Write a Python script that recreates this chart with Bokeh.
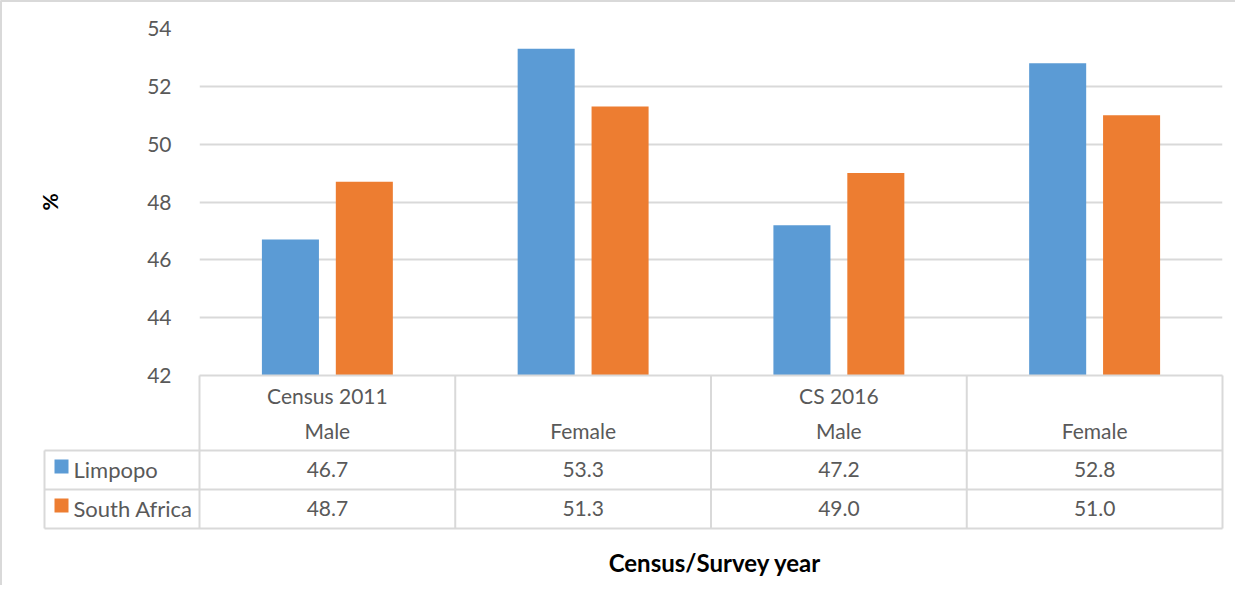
from bokeh.plotting import figure
from bokeh.models import Range1d, FixedTicker, ColumnDataSource
from bokeh.core.properties import value
from bokeh.embed import file_html
from bokeh.resources import INLINE

# ---- data ----
groups = ["Census 2011", "", "CS 2016", ""]
sexes = ["Male", "Female", "Male", "Female"]
series_names = ["Limpopo", "South Africa"]
limpopo = [46.7, 53.3, 47.2, 52.8]
south_africa = [48.7, 51.3, 49.0, 51.0]
y_ticks = [42, 44, 46, 48, 50, 52, 54]
y_title = "%"
x_title = "Census/Survey year"

# ---- style ----
BLUE = "#5B9BD5"
ORANGE = "#ED7D31"
GRID = "#D9D9D9"
TXT = "#595959"
FONT = "Lato"

W, H = 1235, 585
FL, FT = 199, 28           # frame left / top in canvas px
FW, FH = 1023, 347         # frame width / height

p = figure(width=W, height=H, output_backend="svg", toolbar_location=None,
           x_range=Range1d(0, len(sexes)), y_range=Range1d(y_ticks[0], y_ticks[-1]),
           min_border_left=FL, min_border_top=FT,
           min_border_right=W - FL - FW, min_border_bottom=H - FT - FH)
p.outline_line_color = None
p.background_fill_color = "white"
p.border_fill_color = "white"

# pixel-like helper ranges (0,0 = frame bottom-left)
p.extra_x_ranges = {"px": Range1d(0, FW)}
p.extra_y_ranges = {"px": Range1d(0, FH)}

# axes
p.xaxis.visible = False
p.xgrid.visible = False
ya = p.yaxis[0]
ya.ticker = FixedTicker(ticks=y_ticks)
ya.axis_line_color = None
ya.major_tick_line_color = None
ya.minor_tick_line_color = None
ya.major_label_text_font = FONT
ya.major_label_text_font_size = "21px"
ya.major_label_text_color = TXT
ya.major_label_standoff = 22
ya.axis_label = y_title
ya.axis_label_text_font = FONT
ya.axis_label_text_font_style = "bold"
ya.axis_label_text_font_size = "21px"
ya.axis_label_text_color = "black"
ya.axis_label_standoff = 82
p.ygrid.ticker = FixedTicker(ticks=y_ticks)
p.ygrid.grid_line_color = GRID
p.ygrid.grid_line_width = 2

# bars
n = len(sexes)
centers = [i + 0.5 for i in range(n)]
off = 0.1445
bw = 0.223
src = ColumnDataSource(dict(x1=[c - off for c in centers], x2=[c + off for c in centers],
                            lim=limpopo, sa=south_africa))
p.vbar(x="x1", top="lim", bottom=y_ticks[0], width=bw, source=src,
       fill_color=BLUE, line_color=None)
p.vbar(x="x2", top="sa", bottom=y_ticks[0], width=bw, source=src,
       fill_color=ORANGE, line_color=None)

# ---- data table below the plot (overlay level so it can sit outside the frame) ----
kw = dict(x_range_name="px", y_range_name="px", level="overlay")
cw = FW / n
LEG_L = -155
rows_y = [-75, -114, -153]
# horizontal lines
p.segment(x0=[0] + [LEG_L] * 3, x1=[FW] * 4, y0=[0] + rows_y, y1=[0] + rows_y,
          line_color=GRID, line_width=2, **kw)
# vertical lines
p.segment(x0=[i * cw for i in range(n + 1)] + [LEG_L], x1=[i * cw for i in range(n + 1)] + [LEG_L],
          y0=[0] * (n + 1) + [rows_y[0]], y1=[rows_y[2]] * (n + 2),
          line_color=GRID, line_width=2, **kw)

tkw = dict(text_font=value(FONT), text_font_size="21px", text_color=TXT,
           text_align="center", text_baseline="middle", level="overlay")
# header texts (primary x range, px y range)
p.text(x=centers, y=[-20] * n, text=groups, y_range_name="px", **tkw)
p.text(x=centers, y=[-55] * n, text=sexes, y_range_name="px", **tkw)
# values
p.text(x=centers, y=[-94] * n, text=[f"{v:.1f}" for v in limpopo], y_range_name="px", **tkw)
p.text(x=centers, y=[-133] * n, text=[f"{v:.1f}" for v in south_africa], y_range_name="px", **tkw)

# legend keys in table
p.rect(x=[-138, -138], y=[-91, -130], width=14, height=14,
       fill_color=[BLUE, ORANGE], line_color=None, **kw)
lkw = dict(tkw)
lkw["text_align"] = "left"
lkw["text_font_size"] = "22px"
p.text(x=[-126, -126], y=[-94, -133], text=series_names,
       x_range_name="px", y_range_name="px", **lkw)

# x title
p.text(x=[FW / 2 + 4], y=[-187], text=[x_title], x_range_name="px", y_range_name="px",
       text_font=value(FONT), text_font_size="24px", text_font_style="bold",
       text_color="black", text_align="center", text_baseline="middle", level="overlay")

# outer border (top and left edges of the chart area)
p.segment(x0=[-FL, -FL], x1=[W, -FL], y0=[FH + FT, FH + FT], y1=[FH + FT, -300],
          line_color=GRID, line_width=3, **kw)

open("out.html", "w").write(file_html(p, INLINE))
